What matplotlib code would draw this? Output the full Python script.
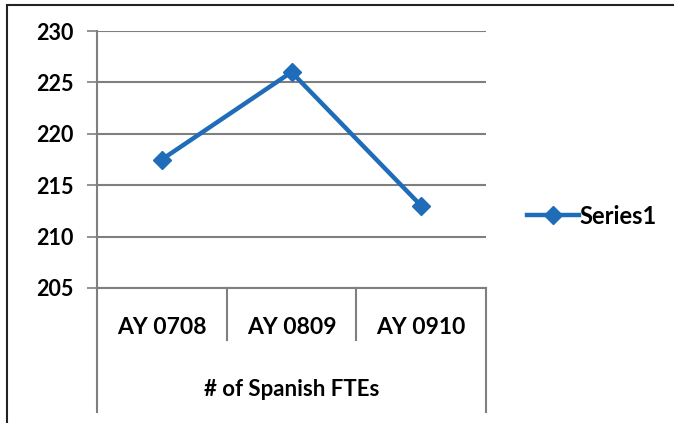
import matplotlib
matplotlib.use('Agg')
import matplotlib.pyplot as plt
from matplotlib.lines import Line2D
from matplotlib.patches import Rectangle
import matplotlib.transforms as mtransforms

plt.rcParams['font.family'] = ['Lato', 'DejaVu Sans']
plt.rcParams['font.weight'] = 'bold'

# data
categories = ['AY 0708', 'AY 0809', 'AY 0910']
group_label = '# of Spanish FTEs'
series_name = 'Series1'
values = [217.5, 226, 213]
y_ticks = [205, 210, 215, 220, 225, 230]

BLUE = '#1f6cb8'
GRID = '#7f7f7f'

fig = plt.figure(figsize=(6.74, 4.23), dpi=100)
ax = fig.add_axes([97 / 674, 1 - 288 / 423, (486 - 97) / 674, (288 - 31) / 423])

x = list(range(len(categories)))
ax.plot(x, values, color=BLUE, lw=3.2, marker='D', markersize=9,
        markerfacecolor=BLUE, markeredgecolor=BLUE, label=series_name)

ax.set_xlim(-0.5, len(categories) - 0.5)
ax.set_ylim(y_ticks[0], y_ticks[-1])
ax.set_yticks(y_ticks)
ax.set_yticklabels([str(v) for v in y_ticks], fontsize=15.5)
ax.yaxis.grid(True, color=GRID, lw=1.5)
ax.set_axisbelow(True)
ax.tick_params(axis='y', direction='out', length=7, width=1.2, color=GRID, pad=10)
ax.set_xticks([])
for s in ['top', 'right']:
    ax.spines[s].set_visible(False)
ax.spines['left'].set_color(GRID)
ax.spines['left'].set_linewidth(1.5)
ax.spines['bottom'].set_color(GRID)
ax.spines['bottom'].set_linewidth(1.5)

# multi-level category axis
trans = mtransforms.blended_transform_factory(ax.transData, ax.transAxes)
h = 257.0
inner_bot = -(340 - 288) / h
outer_bot = -(412 - 288) / h
n = len(categories)
for i in range(n + 1):
    xe = i - 0.5
    yb = outer_bot if i in (0, n) else inner_bot
    ax.add_line(Line2D([xe, xe], [0, yb], transform=trans, color=GRID,
                       lw=1.5, clip_on=False))
for i, c in enumerate(categories):
    ax.text(i, -(328 - 288) / h, c, transform=trans, ha='center', va='center',
            fontsize=16.5)
ax.text((n - 1) / 2, -(390 - 288) / h, group_label, transform=trans,
        ha='center', va='center', fontsize=16)

# legend
fig.legend(loc='center left', bbox_to_anchor=(518 / 674, 1 - 216 / 423),
           frameon=False, fontsize=17, handlelength=2.2, handletextpad=0.0,
           borderaxespad=0)

# chart border
fig.patches.append(Rectangle((7 / 674, -0.01), 1.0, 1 - 5 / 423 + 0.01,
                             transform=fig.transFigure, fill=False,
                             edgecolor='#222222', lw=1.5))

fig.savefig('out.png', dpi=100, facecolor='white')
